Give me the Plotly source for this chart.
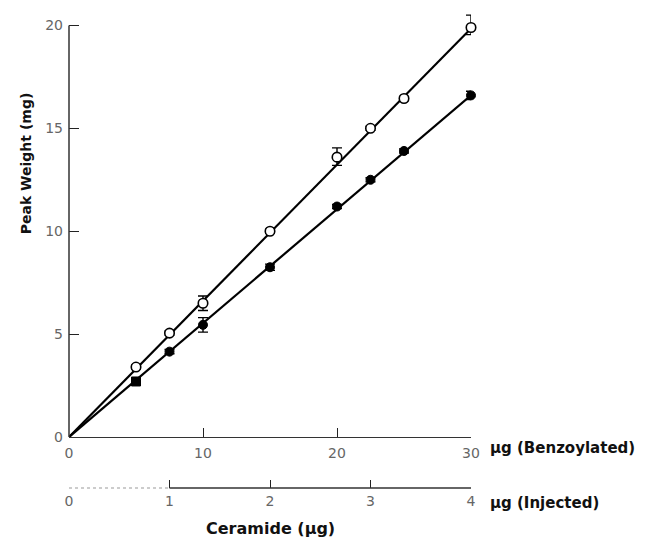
import plotly.graph_objects as go

# ---- data ----
benz_x = [5, 7.5, 10, 15, 20, 22.5, 25, 30]          # µg benzoylated
open_y = [3.4, 5.05, 6.5, 10.0, 13.6, 15.0, 16.45, 19.9]
open_err_plus = [0.1, 0.1, 0.35, 0.1, 0.45, 0.1, 0.1, 0.6]
open_err_minus = [0.1, 0.1, 0.35, 0.1, 0.4, 0.1, 0.1, 0.35]
filled_y = [2.7, 4.15, 5.45, 8.25, 11.2, 12.5, 13.9, 16.6]
filled_err = [0.15, 0.1, 0.35, 0.15, 0.1, 0.1, 0.1, 0.2]

fit_x = [0, 30]
open_fit_y = [0, 19.85]
filled_fit_y = [0, 16.6]

y_ticks = [0, 5, 10, 15, 20]
x_ticks = [0, 10, 20, 30]
inj_ticks = [0, 1, 2, 3, 4]

Y_MAX_AXIS = 20      # visible y axis ends here
Y_RANGE_TOP = 20.7   # a little headroom so top error bar is not clipped

# page body has an 8px default margin: shrink figure and shift layout by 8px
OFF = 8
W, H = 653 - OFF, 543 - OFF
s = (437 - 25) / Y_MAX_AXIS                 # px per y unit in the reference
top_ref = 437 - Y_RANGE_TOP * s
L, R, T, B = 69 - OFF, 182, top_ref - OFF, 55
plot_h = H - T - B
plot_w = W - L - R
y_dom0 = (488 - 437) / plot_h

def py(yref_px):
    return (488 - yref_px) / plot_h

def px(xref_px):
    return (xref_px - 69) / plot_w

fig = go.Figure()

fig.add_trace(go.Scatter(x=fit_x, y=open_fit_y, mode="lines", cliponaxis=False,
                         line=dict(color="black", width=2.2), showlegend=False))
fig.add_trace(go.Scatter(x=fit_x, y=filled_fit_y, mode="lines", cliponaxis=False,
                         line=dict(color="black", width=2.2), showlegend=False))

fig.add_trace(go.Scatter(
    x=benz_x, y=open_y, mode="markers", cliponaxis=False,
    marker=dict(symbol="circle", size=9.5, color="white",
                line=dict(color="black", width=1.6)),
    error_y=dict(type="data", array=open_err_plus, arrayminus=open_err_minus,
                 color="black", thickness=1.4, width=5),
    showlegend=False))

filled_symbols = ["square"] + ["circle"] * (len(benz_x) - 1)
fig.add_trace(go.Scatter(
    x=benz_x, y=filled_y, mode="markers", cliponaxis=False,
    marker=dict(symbol=filled_symbols, size=9, color="black",
                line=dict(color="black", width=1)),
    error_y=dict(type="data", array=filled_err, color="black",
                 thickness=1.4, width=5),
    showlegend=False))

tick_font = dict(family="DejaVu Sans", size=14, color="#666")

fig.update_layout(
    width=W, height=H,
    margin=dict(l=L, r=R, t=T, b=B, pad=0),
    plot_bgcolor="white", paper_bgcolor="white",
    xaxis=dict(range=[0, 30], tickvals=x_ticks, ticks="inside", ticklen=9,
               tickwidth=1.3, tickcolor="#222", showline=True, linecolor="#333",
               linewidth=1.3, showgrid=False, zeroline=False, tickfont=tick_font,
               anchor="y", domain=[0, 1], ticklabelstandoff=3, automargin=False),
    yaxis=dict(range=[0, Y_RANGE_TOP], tickvals=y_ticks, ticks="inside", ticklen=10,
               tickwidth=1.3, tickcolor="#222", showline=False,
               showgrid=False, zeroline=False, tickfont=tick_font,
               domain=[y_dom0, 1], ticklabelstandoff=5, automargin=False),
    xaxis2=dict(range=[0, 4], tickvals=inj_ticks, ticks="inside", ticklen=8,
                tickwidth=1.3, tickcolor="#222", showline=False, showgrid=False,
                zeroline=False, tickfont=tick_font, anchor="free", position=0,
                overlaying="x", side="bottom", domain=[0, 1], ticklabelstandoff=3,
                automargin=False),
)

# invisible trace to activate xaxis2
fig.add_trace(go.Scatter(x=[0, 4], y=[None, None], xaxis="x2", mode="markers",
                         showlegend=False, hoverinfo="skip"))

# y axis line, ending at 20
fig.add_shape(type="line", xref="paper", yref="y", x0=0, x1=0,
              y0=0, y1=Y_MAX_AXIS, line=dict(color="#333", width=1.5))
# lower axis line: dotted from 0 to 1, solid from 1 to 4
fig.add_shape(type="line", xref="x2", yref="paper", x0=inj_ticks[0], x1=inj_ticks[1],
              y0=0, y1=0, line=dict(color="#999", width=1.2, dash="dot"))
fig.add_shape(type="line", xref="x2", yref="paper", x0=inj_ticks[1], x1=inj_ticks[-1],
              y0=0, y1=0, line=dict(color="#333", width=1.3))

lab_font = dict(family="DejaVu Sans", size=15, color="#111", weight="bold")

fig.add_annotation(text="μg (Benzoylated)", xref="paper", yref="paper",
                   x=px(488), y=py(448),
                   xanchor="left", yanchor="middle", showarrow=False, font=lab_font)
fig.add_annotation(text="μg (Injected)", xref="paper", yref="paper",
                   x=px(488), y=py(503),
                   xanchor="left", yanchor="middle", showarrow=False, font=lab_font)
fig.add_annotation(text="Ceramide (μg)", xref="paper", yref="paper",
                   x=px(270), y=py(529),
                   xanchor="center", yanchor="middle", showarrow=False,
                   font=dict(family="DejaVu Sans", size=16, color="#111", weight="bold"))
fig.add_annotation(text="Peak Weight (mg)", xref="paper", yref="paper",
                   x=px(26), y=py(163),
                   xanchor="center", yanchor="middle", textangle=-90,
                   showarrow=False, font=dict(family="DejaVu Sans", size=14,
                                              color="#111", weight="bold"))

fig.write_html("out.html")
